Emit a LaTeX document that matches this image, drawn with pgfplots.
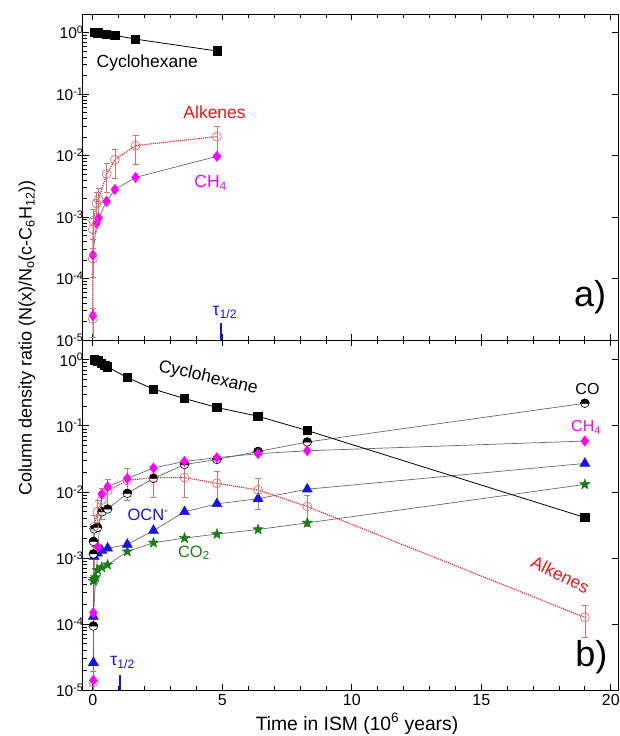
\documentclass[border=0pt]{standalone}
\usepackage{fontspec}
\setmainfont{Liberation Sans}
\usepackage{pgfplots}
\pgfplotsset{compat=1.18}

\definecolor{mag}{RGB}{255,0,255}
\definecolor{alkc}{RGB}{210,115,115}
\definecolor{alkred}{RGB}{240,20,20}
\definecolor{grn}{RGB}{25,125,25}
\definecolor{lgray}{RGB}{105,105,105}
\definecolor{ocnb}{RGB}{20,20,235}

\pgfdeclareplotmark{fstar}{%
  \pgfpathmoveto{\pgfpointpolar{90}{1.25\pgfplotmarksize}}%
  \pgfpathlineto{\pgfpointpolar{126}{0.52\pgfplotmarksize}}%
  \pgfpathlineto{\pgfpointpolar{162}{1.25\pgfplotmarksize}}%
  \pgfpathlineto{\pgfpointpolar{198}{0.52\pgfplotmarksize}}%
  \pgfpathlineto{\pgfpointpolar{234}{1.25\pgfplotmarksize}}%
  \pgfpathlineto{\pgfpointpolar{270}{0.52\pgfplotmarksize}}%
  \pgfpathlineto{\pgfpointpolar{306}{1.25\pgfplotmarksize}}%
  \pgfpathlineto{\pgfpointpolar{342}{0.52\pgfplotmarksize}}%
  \pgfpathlineto{\pgfpointpolar{18}{1.25\pgfplotmarksize}}%
  \pgfpathlineto{\pgfpointpolar{54}{0.52\pgfplotmarksize}}%
  \pgfpathclose\pgfusepathqfillstroke}

\pgfdeclareplotmark{hcirc}{%
  \pgfpathcircle{\pgfpointorigin}{\pgfplotmarksize}%
  \pgfsetfillcolor{white}\pgfusepathqfillstroke
  \pgfpathmoveto{\pgfpoint{\pgfplotmarksize}{0pt}}%
  \pgfpatharc{0}{180}{\pgfplotmarksize}\pgfpathclose
  \pgfsetfillcolor{black}\pgfusepathqfillstroke}

\begin{document}
\begin{tikzpicture}
\useasboundingbox (0pt,0pt) rectangle (619pt,736pt);

% ---------------- panel a ----------------
\begin{axis}[at={(82pt,396pt)}, anchor=south west,
    scale only axis, width=536pt, height=326pt,
    xmin=-0.42, xmax=20.28,
    ymode=log, ymin=1e-5, ymax=2,
    xtick={0,5,10,15,20}, minor x tick num=4, xticklabels={},
    ytick={1e-5,1e-4,1e-3,1e-2,1e-1,1},
    yticklabels={10\textsuperscript{-5},10\textsuperscript{-4},10\textsuperscript{-3},10\textsuperscript{-2},10\textsuperscript{-1},10\textsuperscript{0}},
    ytick pos=left, xtick pos=both,
    tick align=inside,
    major tick length=6.5pt, minor tick length=4.5pt,
    axis line style={line width=0.9pt},
    tick style={black, line width=0.8pt},
    yticklabel style={font=\fontsize{15.5}{18}\selectfont, xshift=5pt},
  ]
\addplot[lgray, line width=0.7pt, mark=diamond*, mark size=5pt, mark options={solid, mag, fill=mag}] coordinates {
 (0,1e-6) (0,2.5e-5) (0,2.4e-4) (0.14,7.8e-4) (0.22,9.6e-4) (0.53,1.8e-3) (0.85,2.8e-3) (1.65,4.4e-3) (4.79,9.7e-3)};
\addplot[alkred, densely dotted, line width=1.1pt, mark=o, mark size=4.5pt,
  mark options={solid, draw=alkc, fill=white, line width=0.7pt},
  error bars/.cd, y dir=both, y explicit,
  error bar style={alkc, line width=0.6pt, solid},
  error mark options={rotate=90, mark size=3pt, alkc, line width=0.6pt, solid}] coordinates {
 (0,2.2e-5) +- (0,1.1e-5)
 (0,2.1e-4) +- (0,1.05e-4)
 (0,6.3e-4) +- (0,3.2e-4)
 (0.02,8.7e-4) +- (0,4.4e-4)
 (0.14,1.66e-3) +- (0,8.3e-4)
 (0.22,1.94e-3) +- (0,9.7e-4)
 (0.53,5.0e-3) +- (0,2.5e-3)
 (0.85,8.5e-3) +- (0,4.2e-3)
 (1.65,0.0145) +- (0,7.2e-3)
 (4.79,0.0203) +- (0,0.0100)};
\addplot[black, line width=0.8pt, mark=square*, mark size=4.2pt] coordinates {
 (0.05,1.0) (0.2,0.98) (0.53,0.93) (0.85,0.90) (1.65,0.78) (4.8,0.50)};
\addplot[ocnb, line width=1.3pt] coordinates {(4.95,1e-5) (4.95,1.9e-5)};
\draw[line width=0.8pt] (axis cs:20.28,1e-4) -- ++(-6.5pt,0pt);
\draw[line width=0.8pt] (axis cs:20.28,1e-3) -- ++(-6.5pt,0pt);
\draw[line width=0.8pt] (axis cs:20.28,1e-2) -- ++(-6.5pt,0pt);
\draw[line width=0.8pt] (axis cs:20.28,1e-1) -- ++(-6.5pt,0pt);
\draw[line width=0.8pt] (axis cs:20.28,1) -- ++(-6.5pt,0pt);
\node[font=\fontsize{17.5}{20}\selectfont] at (axis cs:2.1,0.32) {Cyclohexane};
\node[font=\fontsize{17.5}{20}\selectfont, text=alkred] at (axis cs:4.7,0.05) {Alkenes};
\node[font=\fontsize{17.5}{20}\selectfont, text=mag] at (axis cs:4.55,3.6e-3) {CH\textsubscript{4}};
\node[font=\fontsize{36}{40}\selectfont] at (axis cs:19.2,4.9e-5) {a)};
\node[font=\fontsize{17.5}{20}\selectfont, text=ocnb] at (axis cs:5.1,2.8e-5) {τ\textsubscript{1/2}};
\end{axis}

% ---------------- panel b ----------------
\begin{axis}[at={(82pt,46pt)}, anchor=south west,
    scale only axis, width=536pt, height=350pt,
    xmin=-0.42, xmax=20.28,
    ymode=log, ymin=1e-5, ymax=2,
    xtick={0,5,10,15,20}, minor x tick num=4, xticklabels={0,5,10,15,20},
    ytick={1e-5,1e-4,1e-3,1e-2,1e-1,1},
    yticklabels={10\textsuperscript{-5},10\textsuperscript{-4},10\textsuperscript{-3},10\textsuperscript{-2},10\textsuperscript{-1},10\textsuperscript{0}},
    ytick pos=left, xtick pos=both,
    tick align=inside,
    major tick length=6.5pt, minor tick length=4.5pt,
    axis line style={line width=0.9pt},
    tick style={black, line width=0.8pt},
    yticklabel style={font=\fontsize{15.5}{18}\selectfont, xshift=5pt},
    xticklabel style={font=\fontsize{16}{18}\selectfont, yshift=-1pt},
  ]
\addplot[lgray, line width=0.7pt, mark=fstar, mark size=4.4pt, mark options={solid, grn, fill=grn, line width=0.4pt}] coordinates {
 (0.02,4.5e-4) (0.05,4.8e-4) (0.1,5.1e-4) (0.18,6.6e-4) (0.34,7.2e-4) (0.57,7.9e-4) (1.33,1.25e-3) (2.34,1.7e-3) (3.54,2.0e-3) (4.79,2.3e-3) (6.38,2.7e-3) (8.28,3.4e-3) (19,0.013)};
\addplot[lgray, line width=0.7pt, mark=triangle*, mark size=5.6pt, mark options={solid, ocnb, fill=ocnb}] coordinates {
 (0.02,2.6e-5) (0.02,1.3e-4) (0.05,1.05e-3) (0.18,1.18e-3) (0.34,1.3e-3) (0.57,1.4e-3) (1.33,1.6e-3) (2.34,2.6e-3) (3.54,5.0e-3) (4.79,6.6e-3) (6.38,7.9e-3) (8.28,0.011) (19,0.027)};
\addplot[lgray, line width=0.7pt, mark=hcirc, mark size=4.3pt, mark options={solid, black, line width=0.6pt}] coordinates {
 (0.02,9.3e-5) (0.02,1.15e-3) (0.02,1.78e-3) (0.05,2.75e-3) (0.18,2.9e-3) (0.36,5.0e-3) (0.57,5.5e-3) (1.33,9.5e-3) (2.34,0.016) (3.54,0.026) (4.79,0.031) (6.38,0.041) (8.28,0.057) (19,0.22)};
\addplot[alkred, densely dotted, line width=1.1pt, mark=o, mark size=4.5pt,
  mark options={solid, draw=alkc, fill=white, line width=0.7pt},
  error bars/.cd, y dir=both, y explicit,
  error bar style={alkc, line width=0.6pt, solid},
  error mark options={rotate=90, mark size=3pt, alkc, line width=0.6pt, solid}] coordinates {
 (0.02,1.3e-5) +- (0,6.5e-6)
 (0.05,3.0e-3) +- (0,1.5e-3)
 (0.18,5.0e-3) +- (0,2.5e-3)
 (0.34,7.5e-3) +- (0,3.7e-3)
 (0.57,0.0105) +- (0,5.2e-3)
 (1.33,0.015) +- (0,7.5e-3)
 (2.34,0.0165) +- (0,8.2e-3)
 (3.54,0.0165) +- (0,8.2e-3)
 (4.79,0.0135) +- (0,6.7e-3)
 (6.38,0.0107) +- (0,5.3e-3)
 (8.28,0.006) +- (0,3.0e-3)
 (19.0,1.26e-4) +- (0,6.3e-5)};
\addplot[lgray, line width=0.7pt, mark=diamond*, mark size=5pt, mark options={solid, mag, fill=mag}] coordinates {
 (0.02,1.4e-5) (0.02,1.48e-4) (0.2,1.45e-3) (0.34,9.3e-3) (0.57,0.012) (1.33,0.016) (2.34,0.023) (3.54,0.029) (4.79,0.033) (6.38,0.038) (8.28,0.042) (19,0.059)};
\addplot[black, line width=0.8pt, mark=square*, mark size=4.2pt] coordinates {
 (0.05,1.0) (0.2,0.97) (0.34,0.89) (0.47,0.82) (0.57,0.78) (1.33,0.54) (2.34,0.36) (3.54,0.26) (4.79,0.19) (6.38,0.14) (8.28,0.085) (19,0.0041)};
\addplot[ocnb, line width=1.3pt] coordinates {(1.05,1e-5) (1.05,1.7e-5)};
\draw[line width=0.8pt] (axis cs:20.28,1e-4) -- ++(-6.5pt,0pt);
\draw[line width=0.8pt] (axis cs:20.28,1e-3) -- ++(-6.5pt,0pt);
\draw[line width=0.8pt] (axis cs:20.28,1e-2) -- ++(-6.5pt,0pt);
\draw[line width=0.8pt] (axis cs:20.28,1e-1) -- ++(-6.5pt,0pt);
\draw[line width=0.8pt] (axis cs:20.28,1) -- ++(-6.5pt,0pt);
\node[font=\fontsize{17.5}{20}\selectfont, rotate=-13] at (axis cs:4.45,0.53) {Cyclohexane};
\node[font=\fontsize{16}{19}\selectfont] at (axis cs:19.1,0.36) {CO};
\node[font=\fontsize{16}{19}\selectfont, text=mag] at (axis cs:19.05,0.095) {CH\textsubscript{4}};
\node[font=\fontsize{16.5}{19}\selectfont, text=ocnb] at (axis cs:2.13,4.5e-3) {OCN\textsuperscript{-}};
\node[font=\fontsize{16.5}{19}\selectfont, text=grn] at (axis cs:3.9,1.2e-3) {CO\textsubscript{2}};
\node[font=\fontsize{17.5}{20}\selectfont, text=alkred, rotate=-26, inner sep=0pt] at (axis cs:18.05,5.6e-4) {Alkenes};
\node[font=\fontsize{36}{40}\selectfont] at (axis cs:19.25,3.1e-5) {b)};
\node[font=\fontsize{17.5}{20}\selectfont, text=ocnb] at (axis cs:1.15,2.6e-5) {τ\textsubscript{1/2}};
\end{axis}

\node[font=\fontsize{19.3}{22}\selectfont] at (357pt,12pt) {Time in ISM (10\textsuperscript{6} years)};
\node[font=\fontsize{18}{21}\selectfont, rotate=90] at (27pt,398pt) {Column density ratio (N(x)/N\textsubscript{o}(c-C\textsubscript{6}H\textsubscript{12}))};
\end{tikzpicture}
\end{document}
